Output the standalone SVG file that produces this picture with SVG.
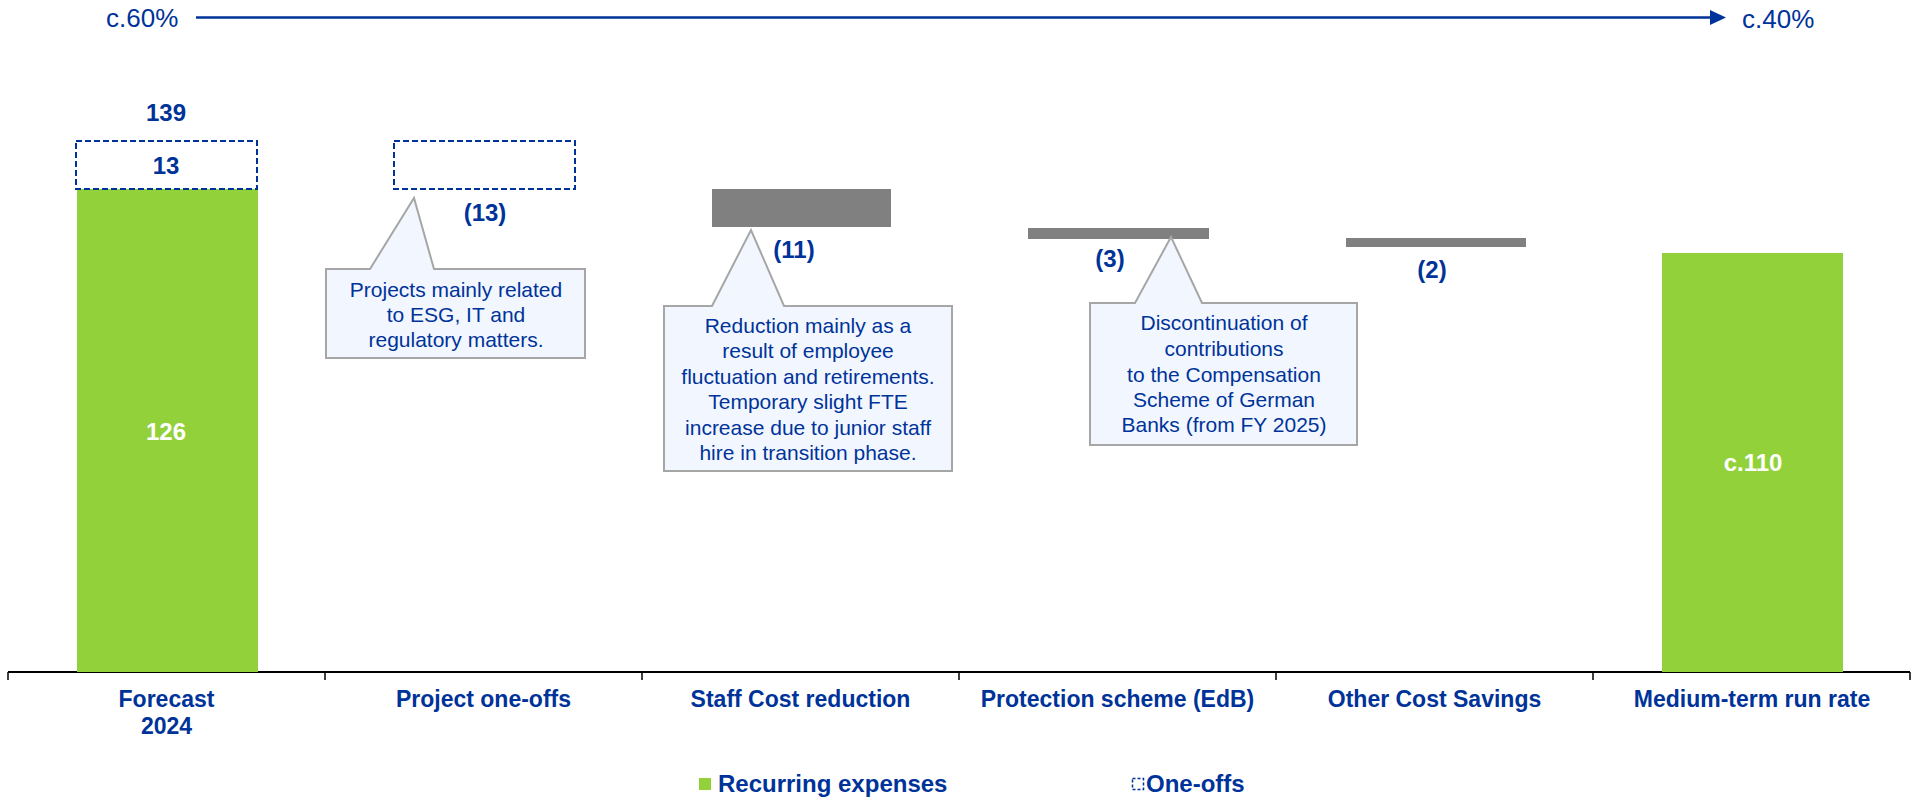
<svg xmlns="http://www.w3.org/2000/svg" width="1914" height="800" viewBox="0 0 1914 800">
<style>
text{font-family:"Liberation Sans",Arial,sans-serif;fill:#003399}
.b{font-weight:bold}
.val{font-size:24px;font-weight:bold;text-anchor:middle}
.wv{fill:#ffffff}
.cat{font-size:23px;font-weight:bold;text-anchor:middle}
.note{font-size:21px;text-anchor:middle}
.pct{font-size:26px}
.leg{font-size:24px;font-weight:bold}
.green{fill:#92D13A}
.gray{fill:#808080}
.dash{fill:#ffffff;stroke:#003399;stroke-width:2;stroke-dasharray:6 3}
.callout{fill:#F2F7FF;stroke:#A6A6A6;stroke-width:2}
</style>
<rect width="1914" height="800" fill="#ffffff"/>
<g id="trend">
<text class="pct" x="106" y="27">c.60%</text>
<line x1="196" y1="17.5" x2="1712" y2="17.5" stroke="#003399" stroke-width="2.5"/>
<polygon points="1710,10 1726,17.5 1710,25" fill="#003399"/>
<text class="pct" x="1742" y="28">c.40%</text>
</g>
<g id="axis">
<line x1="8" y1="672" x2="1910" y2="672" stroke="#000" stroke-width="2"/>
<path d="M8,672V680M325,672V680M642,672V680M959,672V680M1276,672V680M1593,672V680M1910,672V680" stroke="#000" stroke-width="1.5"/>
</g>
<g id="forecast">
<rect class="green" x="77" y="189" width="181" height="483"/>
<rect class="dash" x="76" y="141" width="181" height="48"/>
<text class="val" x="166" y="121">139</text>
<text class="val" x="166" y="174">13</text>
<text class="val wv" x="166" y="440">126</text>
<text class="cat" x="166.5" y="707">Forecast</text>
<text class="cat" x="166.5" y="734">2024</text>
</g>
<g id="project">
<rect class="dash" x="394" y="141" width="181" height="48"/>
<text class="val" x="485" y="221">(13)</text>
<path class="callout" d="M326,269 L370,269 L414,198 L434,269 L585,269 L585,358 L326,358 Z"/>
<text class="note" x="456" y="297">Projects mainly related</text>
<text class="note" x="456" y="322">to ESG, IT and</text>
<text class="note" x="456" y="347">regulatory matters.</text>
<text class="cat" x="483.5" y="707">Project one-offs</text>
</g>
<g id="staff">
<rect class="gray" x="712" y="189" width="179" height="38"/>
<text class="val" x="794" y="258">(11)</text>
<path class="callout" d="M664,306 L712,306 L751,230 L784,306 L952,306 L952,471 L664,471 Z"/>
<text class="note" x="808" y="333">Reduction mainly as a</text>
<text class="note" x="808" y="358">result of employee</text>
<text class="note" x="808" y="384">fluctuation and retirements.</text>
<text class="note" x="808" y="409">Temporary slight FTE</text>
<text class="note" x="808" y="435">increase due to junior staff</text>
<text class="note" x="808" y="460">hire in transition phase.</text>
<text class="cat" x="800.5" y="707">Staff Cost reduction</text>
</g>
<g id="protection">
<rect class="gray" x="1028" y="228" width="181" height="11"/>
<text class="val" x="1110" y="267">(3)</text>
<path class="callout" d="M1090,303 L1135,303 L1171,237 L1202,303 L1357,303 L1357,445 L1090,445 Z"/>
<text class="note" x="1224" y="330">Discontinuation of</text>
<text class="note" x="1224" y="356">contributions</text>
<text class="note" x="1224" y="382">to the Compensation</text>
<text class="note" x="1224" y="407">Scheme of German</text>
<text class="note" x="1224" y="432">Banks (from FY 2025)</text>
<text class="cat" x="1117.5" y="707">Protection scheme (EdB)</text>
</g>
<g id="other">
<rect class="gray" x="1346" y="238" width="180" height="9"/>
<text class="val" x="1432" y="278">(2)</text>
<text class="cat" x="1434.5" y="707">Other Cost Savings</text>
</g>
<g id="runrate">
<rect class="green" x="1662" y="253" width="181" height="419"/>
<text class="val wv" x="1753" y="471">c.110</text>
<text class="cat" x="1752" y="707">Medium-term run rate</text>
</g>
<g id="legend">
<rect class="green" x="699" y="778" width="12" height="12"/>
<text class="leg" x="718" y="792">Recurring expenses</text>
<rect x="1132.5" y="778.5" width="11" height="11" fill="#fff" stroke="#003399" stroke-width="1.5" stroke-dasharray="3 2"/>
<text class="leg" x="1146" y="792">One-offs</text>
</g>
</svg>
